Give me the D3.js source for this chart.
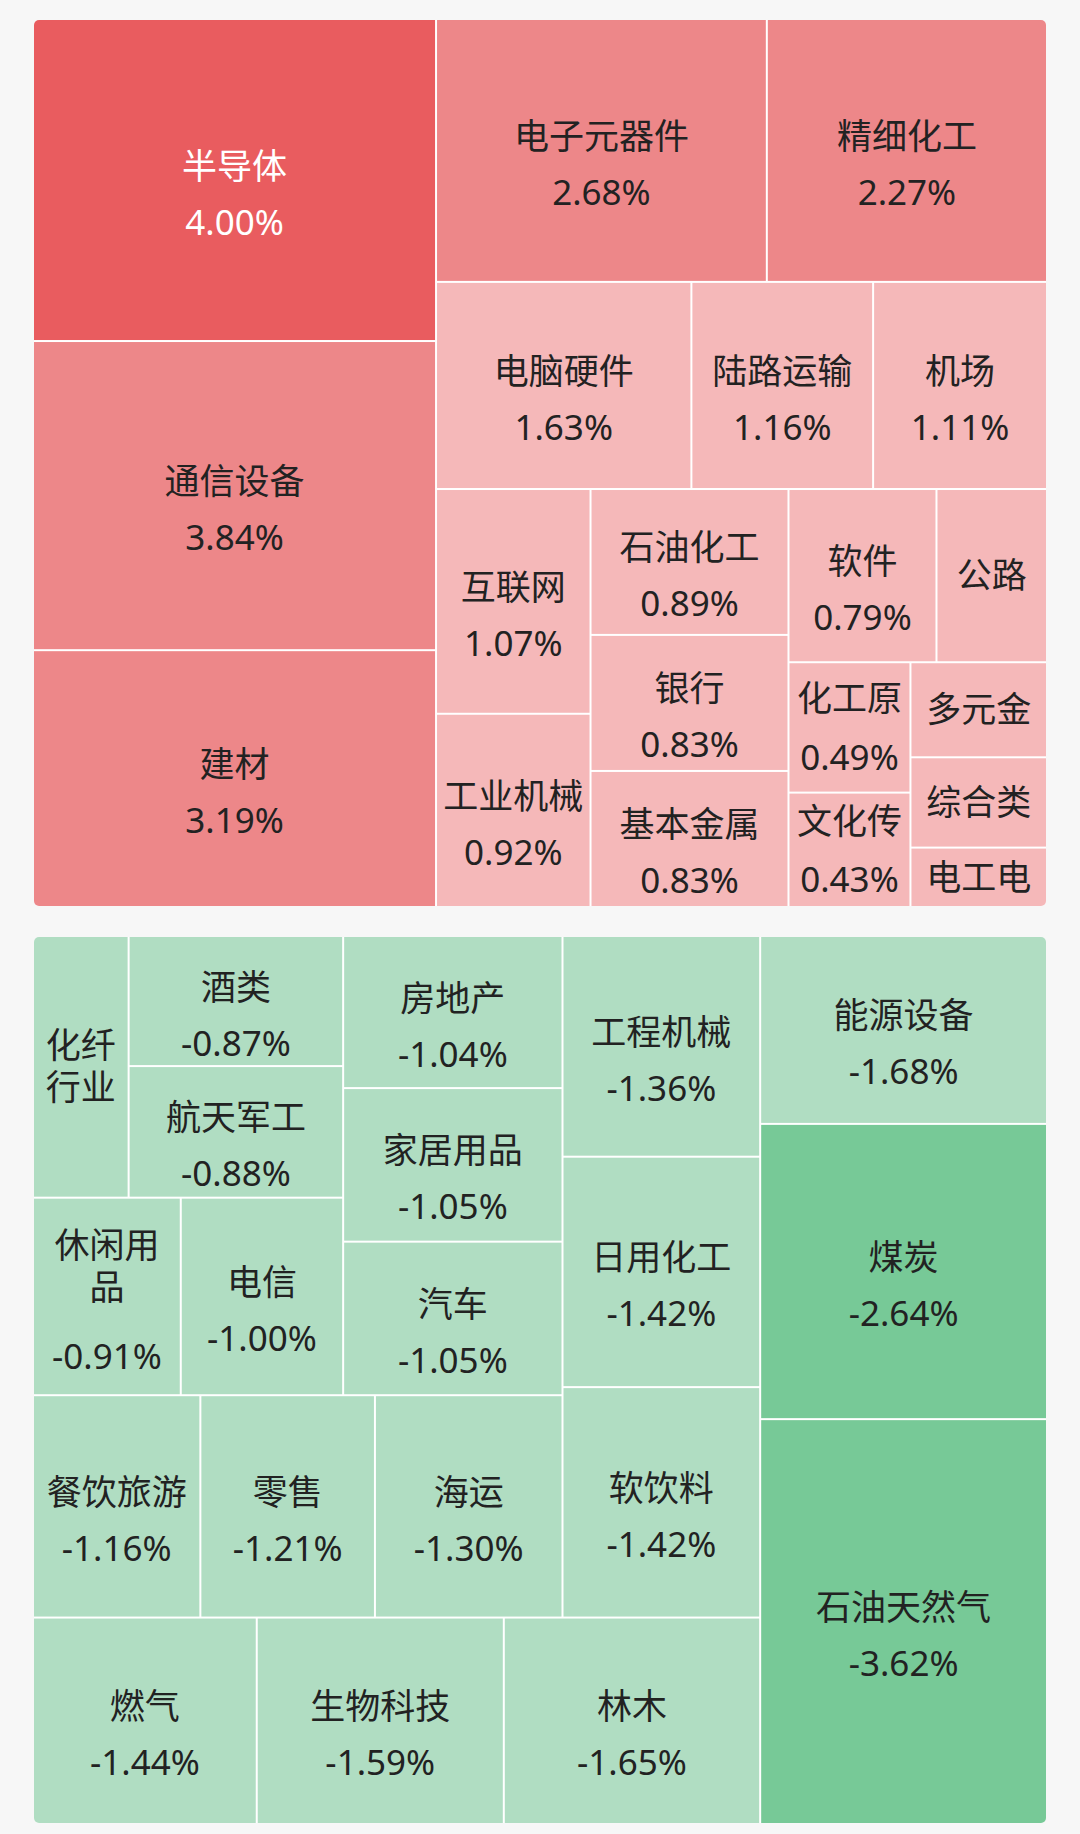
<!DOCTYPE html>
<html>
<head>
<meta charset="utf-8">
<script src="https://cdn.jsdelivr.net/npm/d3@7"></script>
<style>
  html, body { margin: 0; padding: 0; background: #f7f7f7; }
  svg { display: block; }
  text { font-family: "Noto Sans", "Noto Sans CJK SC", sans-serif; }
</style>
</head>
<body>
<svg id="chart" width="1080" height="1834"></svg>
<script>
// ---- data: rising sectors (% change) ----
const upNames = ["半导体", "通信设备", "建材", "电子元器件", "精细化工", "电脑硬件", "陆路运输", "机场",
  "互联网", "工业机械", "石油化工", "银行", "基本金属", "软件", "公路", "化工原料", "文化传媒",
  "多元金融", "综合类", "电工电网"];
const upValues = [4.00, 3.84, 3.19, 2.68, 2.27, 1.63, 1.16, 1.11,
  1.07, 0.92, 0.89, 0.83, 0.83, 0.79, 0.59, 0.49, 0.43,
  0.40, 0.38, 0.25];

// ---- data: falling sectors (% change) ----
const downNames = ["石油天然气", "煤炭", "能源设备", "林木", "生物科技", "燃气", "软饮料", "日用化工",
  "工程机械", "海运", "零售", "餐饮旅游", "汽车", "家居用品", "房地产", "电信", "休闲用品",
  "航天军工", "酒类", "化纤行业"];
const downValues = [-3.62, -2.64, -1.68, -1.65, -1.59, -1.44, -1.42, -1.42,
  -1.36, -1.30, -1.21, -1.16, -1.05, -1.05, -1.04, -1.00, -0.91,
  -0.88, -0.87, -0.78];

// ---- colour bins ----
const colorBreaks = [-2, 0, 2, 4];
const colorRange = ["#77C997", "#B0DDC2", "#F5B8B9", "#ED8789", "#E95C5F"];

// ---- layout / style ----
const W = 1012, H = 886, X0 = 34;
const FS = 35, LH = 42, VH = 52, PX = 5.6, PY = 6, DY = -1.5;

const svg = d3.select("#chart");
const color = d3.scaleThreshold().domain(colorBreaks).range(colorRange);
const textColor = d3.scaleThreshold().domain([4]).range(["#222222", "#ffffff"]);

const measurer = svg.append("text").attr("font-size", FS).attr("visibility", "hidden");
function tw(s) { measurer.text(s); return measurer.node().getComputedTextLength(); }

function drawPanel(names, values, top, flip, id) {
  const root = d3.hierarchy({ children: names.map((n, i) => ({ name: n, value: values[i] })) })
    .sum(d => d.children ? 0 : Math.abs(d.value))
    .sort((a, b) => b.value - a.value);
  d3.treemap().tile(d3.treemapSquarify.ratio(1)).size([W, H]).paddingInner(2)(root);

  const leaves = root.leaves().map(l => {
    let x0 = l.x0, x1 = l.x1, y0 = l.y0, y1 = l.y1;
    if (flip) { [x0, x1] = [W - x1, W - x0]; [y0, y1] = [H - y1, H - y0]; }
    return { name: l.data.name, value: l.data.value, x0, x1, y0, y1 };
  });

  const g = svg.append("g").attr("transform", `translate(${X0},${top})`);
  g.append("clipPath").attr("id", id)
    .append("rect").attr("width", W).attr("height", H).attr("rx", 5).attr("ry", 5);
  const inner = g.append("g").attr("clip-path", `url(#${id})`);
  inner.append("rect").attr("class", "bg").attr("width", W).attr("height", H).attr("fill", "#ffffff");

  inner.selectAll("rect.cell").data(leaves).join("rect")
    .attr("class", "cell")
    .attr("x", d => d.x0).attr("y", d => d.y0)
    .attr("width", d => d.x1 - d.x0).attr("height", d => d.y1 - d.y0)
    .attr("fill", d => color(d.value));

  leaves.forEach(d => {
    const w = d.x1 - d.x0, h = d.y1 - d.y0;
    const cx = (d.x0 + d.x1) / 2, cy = (d.y0 + d.y1) / 2 + DY;
    const avW = w - 2 * PX, avH = h - 2 * PY;
    const valStr = d.value.toFixed(2) + "%";
    let lines = [], cur = "";
    for (const c of Array.from(d.name)) {
      if (cur && tw(cur + c) > avW) { lines.push(cur); cur = c; } else cur += c;
    }
    if (cur) lines.push(cur);
    const showVal = tw(valStr) <= avW && (LH + VH) <= avH;
    const maxLines = Math.max(1, Math.floor((avH - (showVal ? VH : 0)) / LH));
    const truncated = lines.length > maxLines;
    lines = lines.slice(0, maxLines);
    const n = lines.length;
    const items = [];
    if (showVal) {
      if (n === 1 && truncated) {
        items.push({ s: lines[0], y: cy - 28.5 });
        items.push({ s: valStr, y: cy + 30 });
      } else {
        const first = cy - 14 - 36.5 * (n - 1);
        lines.forEach((s, i) => items.push({ s, y: first + i * LH }));
        items.push({ s: valStr, y: cy + 42 + 18 * (n - 1) });
      }
    } else {
      lines.forEach((s, i) => items.push({ s, y: cy + (i - (n - 1) / 2) * LH }));
    }
    const t = inner.append("text")
      .attr("text-anchor", "middle")
      .attr("dominant-baseline", "central")
      .attr("font-size", FS)
      .attr("fill", textColor(d.value));
    t.selectAll("tspan").data(items).join("tspan")
      .attr("x", cx).attr("y", it => it.y)
      .attr("dominant-baseline", "central")
      .text(it => it.s);
  });
}

drawPanel(upNames, upValues, 20, false, "clipUp");
drawPanel(downNames, downValues, 937, true, "clipDown");
measurer.remove();
</script>
</body>
</html>
